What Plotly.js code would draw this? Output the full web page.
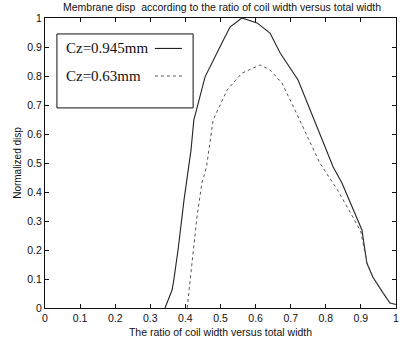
<!DOCTYPE html>
<html>
<head>
<meta charset="utf-8">
<script src="https://cdn.plot.ly/plotly-3.0.1.min.js"></script>
<style>html,body{margin:0;padding:0;background:#fff}#chart{width:400px;height:343px}</style>
</head>
<body>
<div id="chart"></div>
<script>
// Cz = 0.945 mm (solid)
const xSolid = [0.342, 0.362, 0.367, 0.379, 0.396, 0.41, 0.416, 0.424, 0.456, 0.504, 0.527, 0.561, 0.604, 0.641, 0.67, 0.721, 0.755, 0.792, 0.821, 0.846, 0.875, 0.903, 0.917, 0.934, 0.963, 0.983, 1.0];
const ySolid = [0.0, 0.062, 0.097, 0.2, 0.372, 0.486, 0.545, 0.648, 0.797, 0.914, 0.969, 1.0, 0.983, 0.948, 0.879, 0.786, 0.683, 0.569, 0.486, 0.431, 0.35, 0.269, 0.155, 0.107, 0.052, 0.017, 0.012];
// Cz = 0.63 mm (dotted)
const xDot = [0.405, 0.419, 0.433, 0.447, 0.46, 0.479, 0.519, 0.561, 0.613, 0.641, 0.675, 0.712, 0.755, 0.783, 0.81, 0.832, 0.877, 0.9, 0.917, 0.934, 0.963, 0.983, 1.0];
const yDot = [0.0, 0.166, 0.314, 0.431, 0.486, 0.648, 0.752, 0.81, 0.838, 0.821, 0.776, 0.683, 0.569, 0.5, 0.45, 0.41, 0.314, 0.262, 0.155, 0.107, 0.052, 0.017, 0.012];
const seriesNames = ["Cz=0.945mm", "Cz=0.63mm"];
const xTicks = [0, 0.1, 0.2, 0.3, 0.4, 0.5, 0.6, 0.7, 0.8, 0.9, 1];
const yTicks = [0, 0.1, 0.2, 0.3, 0.4, 0.5, 0.6, 0.7, 0.8, 0.9, 1];

const traces = [
  {x: xSolid, y: ySolid, name: seriesNames[0], mode: "lines", line: {color: "#222", width: 1.1, dash: "solid"}},
  {x: xDot, y: yDot, name: seriesNames[1], mode: "lines", line: {color: "#555", width: 1, dash: "dot"}}
];

const sans = "Arial, Liberation Sans, sans-serif";
const tickFont = {family: sans, size: 10.5, color: "#111"};
const axisBase = {
  showgrid: false, zeroline: false, showline: true, linecolor: "#111", linewidth: 1,
  mirror: "ticks", ticks: "inside", ticklen: 4, tickcolor: "#111", tickfont: tickFont
};

const layout = {
  width: 400, height: 343,
  margin: {l: 45, r: 4, t: 18, b: 35},
  paper_bgcolor: "#fff", plot_bgcolor: "#fff",
  showlegend: false,
  title: {text: "Membrane disp  according to the ratio of coil width versus total width",
          font: {family: sans, size: 10.5, color: "#111"},
          x: 0.555, xanchor: "center", y: 0.99, yanchor: "top"},
  xaxis: Object.assign({}, axisBase, {range: [0, 1], tickvals: xTicks,
    title: {text: "The ratio of coil width versus total width", standoff: 6,
            font: {family: sans, size: 10.5, color: "#111"}}}),
  yaxis: Object.assign({}, axisBase, {range: [0, 1], tickvals: yTicks,
    title: {text: "Normalized disp", standoff: 3,
            font: {family: sans, size: 10, color: "#111"}}}),
  shapes: [
    {type: "rect", xref: "paper", yref: "paper", x0: 0.034, x1: 0.422, y0: 0.69, y1: 0.945,
     line: {color: "#111", width: 1}, fillcolor: "rgba(0,0,0,0)"},
    {type: "line", xref: "paper", yref: "paper", x0: 0.313, x1: 0.39, y0: 0.895, y1: 0.895,
     line: {color: "#222", width: 1.1, dash: "solid"}},
    {type: "line", xref: "paper", yref: "paper", x0: 0.313, x1: 0.39, y0: 0.8, y1: 0.8,
     line: {color: "#555", width: 1, dash: "dot"}}
  ],
  annotations: [
    {xref: "paper", yref: "paper", x: 0.054, y: 0.895, xanchor: "left", yanchor: "middle", showarrow: false,
     text: seriesNames[0], font: {family: "Liberation Serif, Times New Roman, serif", size: 15, color: "#111"}},
    {xref: "paper", yref: "paper", x: 0.054, y: 0.8, xanchor: "left", yanchor: "middle", showarrow: false,
     text: seriesNames[1], font: {family: "Liberation Serif, Times New Roman, serif", size: 15, color: "#111"}}
  ]
};

Plotly.newPlot("chart", traces, layout, {staticPlot: true, displayModeBar: false});
</script>
</body>
</html>
